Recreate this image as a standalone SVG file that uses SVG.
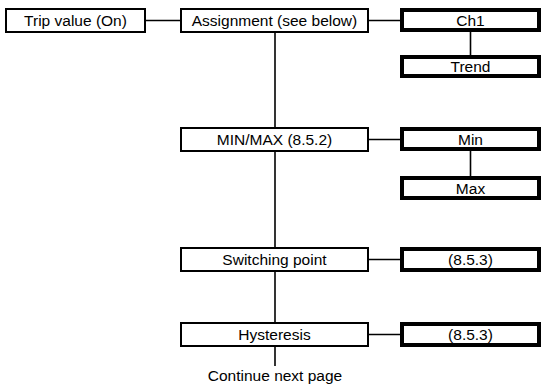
<svg xmlns="http://www.w3.org/2000/svg" width="542" height="385" viewBox="0 0 542 385">
<style>
.box{fill:#fff;stroke:#000;stroke-width:2}
.thick{fill:#fff;stroke:#000;stroke-width:4}
.lbl{font-family:"Liberation Sans",Arial,Helvetica,sans-serif;font-size:15.5px;fill:#000;text-anchor:middle}
.con{stroke:#000;stroke-width:1.6;fill:none}
</style>
<rect width="542" height="385" fill="#fff"/>
<g id="connectors">
<line class="con" x1="145" y1="20.5" x2="181" y2="20.5"/>
<line class="con" x1="368" y1="20.5" x2="401" y2="20.5"/>
<line class="con" x1="470.5" y1="31" x2="470.5" y2="56"/>
<line class="con" x1="275" y1="32" x2="275" y2="128"/>
<line class="con" x1="368" y1="139.5" x2="401" y2="139.5"/>
<line class="con" x1="470.5" y1="150" x2="470.5" y2="177"/>
<line class="con" x1="275" y1="151" x2="275" y2="248"/>
<line class="con" x1="368" y1="259.5" x2="401" y2="259.5"/>
<line class="con" x1="275" y1="271" x2="275" y2="323"/>
<line class="con" x1="368" y1="334.5" x2="401" y2="334.5"/>
<line class="con" x1="275" y1="346" x2="275" y2="366"/>
</g>
<g id="trip"><rect class="box" x="6" y="9" width="139" height="23"/><text class="lbl" x="75.5" y="26">Trip value (On)</text></g>
<g id="assignment"><rect class="box" x="181" y="9" width="187" height="23"/><text class="lbl" x="274.5" y="26">Assignment (see below)</text></g>
<g id="ch1"><rect class="thick" x="402" y="10" width="137" height="20"/><text class="lbl" x="470.5" y="25.5">Ch1</text></g>
<g id="trend"><rect class="thick" x="402" y="57" width="137" height="19"/><text class="lbl" x="470.5" y="72">Trend</text></g>
<g id="minmax"><rect class="box" x="181" y="128" width="187" height="23"/><text class="lbl" x="274.5" y="145">MIN/MAX (8.5.2)</text></g>
<g id="min"><rect class="thick" x="402" y="129" width="137" height="20"/><text class="lbl" x="470.5" y="144.5">Min</text></g>
<g id="max"><rect class="thick" x="402" y="178" width="137" height="20"/><text class="lbl" x="470.5" y="193.5">Max</text></g>
<g id="switching"><rect class="box" x="181" y="248" width="187" height="23"/><text class="lbl" x="274.5" y="265">Switching point</text></g>
<g id="sp-ref"><rect class="thick" x="402" y="249" width="137" height="21"/><text class="lbl" x="470.5" y="265">(8.5.3)</text></g>
<g id="hysteresis"><rect class="box" x="181" y="323" width="187" height="23"/><text class="lbl" x="274.5" y="340">Hysteresis</text></g>
<g id="hy-ref"><rect class="thick" x="402" y="324" width="137" height="21"/><text class="lbl" x="470.5" y="340">(8.5.3)</text></g>
<g id="continue"><text class="lbl" x="275" y="381">Continue next page</text></g>
</svg>
